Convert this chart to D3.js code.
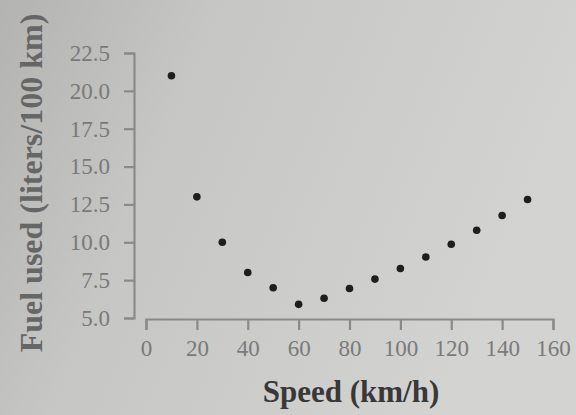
<!DOCTYPE html>
<html>
<head>
<meta charset="utf-8">
<script src="https://cdn.jsdelivr.net/npm/d3@7"></script>
<style>
  body { margin: 0; }
  svg { display: block; }
</style>
</head>
<body>
<svg id="chart" width="576" height="415"></svg>
<script>
// speed in km/h, fuel in liters per 100 km
var speeds = [10, 20, 30, 40, 50, 60, 70, 80, 90, 100, 110, 120, 130, 140, 150];
var fuelUsed = [21.0, 13.0, 10.0, 8.0, 7.0, 5.9, 6.3, 6.95, 7.57, 8.27, 9.03, 9.87, 10.79, 11.77, 12.83];
var xTicks = [0, 20, 40, 60, 80, 100, 120, 140, 160];
var yTicks = [5.0, 7.5, 10.0, 12.5, 15.0, 17.5, 20.0, 22.5];

var svg = d3.select('#chart');

// photo-ish grey paper background
var grad = svg.append('defs').append('linearGradient')
  .attr('id', 'paper')
  .attr('x1', '0').attr('y1', '0').attr('x2', '1').attr('y2', '0.3');
grad.append('stop').attr('offset', '0').attr('stop-color', '#b3b3b1');
grad.append('stop').attr('offset', '0.35').attr('stop-color', '#c6c6c4');
grad.append('stop').attr('offset', '1').attr('stop-color', '#d3d3d1');

svg.append('rect')
  .attr('width', 576)
  .attr('height', 415)
  .attr('fill', 'url(#paper)');

var x = d3.scaleLinear().domain([0, 160]).range([146, 553]);
var y = d3.scaleLinear().domain([5, 22.5]).range([318, 53]);

var axisColor = '#8a8a8a';
var labelColor = '#7a7a7a';

// y axis
var yAxis = svg.append('g')
  .attr('transform', 'translate(134,0)')
  .call(d3.axisLeft(y).tickValues(yTicks).tickFormat(d3.format('.1f')).tickSize(10).tickPadding(14));

// x axis
var xAxis = svg.append('g')
  .attr('transform', 'translate(0,319)')
  .call(d3.axisBottom(x).tickValues(xTicks).tickSize(11).tickPadding(10));

[yAxis, xAxis].forEach(function (g) {
  g.select('.domain').attr('stroke', axisColor).attr('stroke-width', 2.2);
  g.selectAll('.tick line').attr('stroke', axisColor).attr('stroke-width', 2.2);
  g.selectAll('.tick text')
    .attr('fill', labelColor)
    .attr('font-family', 'Liberation Serif')
    .attr('font-size', '23px');
});

// points
svg.append('g')
  .selectAll('circle')
  .data(speeds)
  .enter()
  .append('circle')
  .attr('cx', function (d) { return x(d); })
  .attr('cy', function (d, i) { return y(fuelUsed[i]); })
  .attr('r', 3.8)
  .attr('fill', '#1e1e1e');

// axis titles
svg.append('text')
  .attr('x', 351)
  .attr('y', 402)
  .attr('text-anchor', 'middle')
  .attr('font-family', 'Liberation Serif')
  .attr('font-weight', 'bold')
  .attr('font-size', '31px')
  .attr('fill', '#383838')
  .text('Speed (km/h)');

svg.append('text')
  .attr('transform', 'translate(42,183) rotate(-90)')
  .attr('text-anchor', 'middle')
  .attr('font-family', 'Liberation Serif')
  .attr('font-weight', 'bold')
  .attr('font-size', '32px')
  .attr('fill', '#666')
  .text('Fuel used (liters/100 km)');
</script>
</body>
</html>
